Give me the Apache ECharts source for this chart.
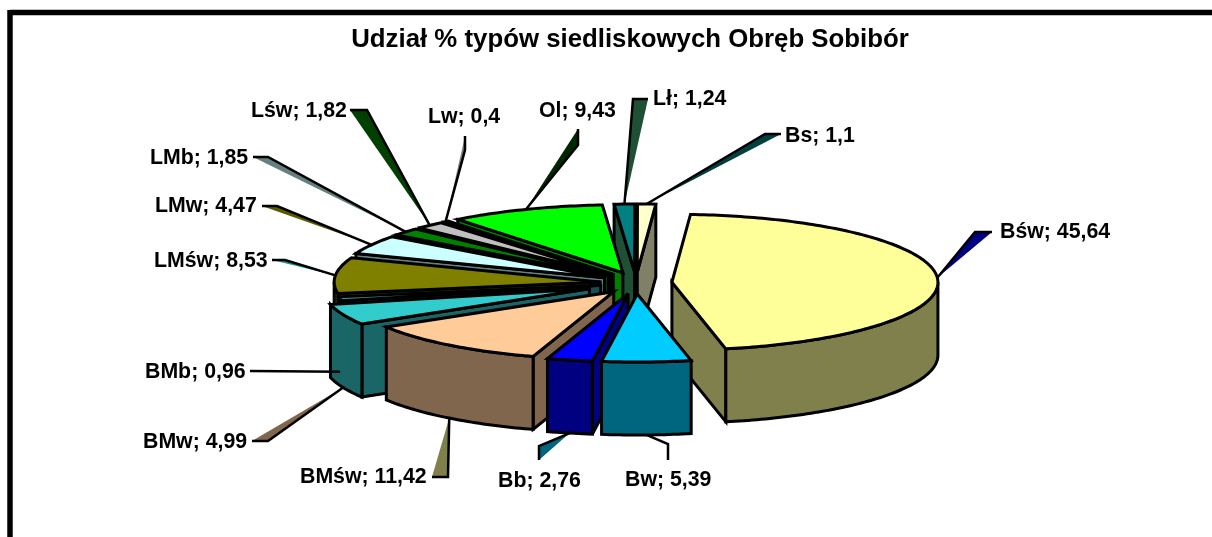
<!DOCTYPE html>
<html><head><meta charset="utf-8">
<style>html,body{margin:0;padding:0;background:#fff}#c{width:1212px;height:537px}</style>
<script src="https://cdn.jsdelivr.net/npm/echarts@6/dist/echarts.min.js"></script>
</head><body><div id="c"></div>
<script>
const chartTitle = 'Udział % typów siedliskowych Obręb Sobibór';
const categories = ['Bśw','Bw','Bb','BMśw','BMw','BMb','LMśw','LMw','LMb','Lśw','Lw','Ol','Lł','Bs'];
const valueLabels = ['45,64','5,39','2,76','11,42','4,99','0,96','8,53','4,47','1,85','1,82','0,4','9,43','1,24','1,1'];
const values = [45.64,5.39,2.76,11.42,4.99,0.96,8.53,4.47,1.85,1.82,0.4,9.43,1.24,1.1];
const topColors = ['#FFFF99','#00CCFF','#0000FF','#FFCC99','#33CCCC','#339999','#808000','#CCFFFF','#008000','#C0C0C0','#006600','#00FF00','#008080','#FFFFCC'];
const wallColors = ['#80804D','#006680','#000080','#80664D','#1A6666','#1A4D4D','#404000','#668080','#004000','#606060','#003300','#008000','#1F5035','#808066'];
const leaderColors = ['#000080','#FFFFFF','#006680','#80804D','#80664D','#1A6666','#1A9090','#5A5A00','#668080','#004000','#808080','#002800','#1F5035','#004040'];
const explodeFactors = [1,1,1,1,1.4,1,1,1,1,1,1,1,1,1];
// label layout: elbow x,y ; leader end x,y ; text left x, text centre y
const elbows = [[975,232],[668,444],[539,446],[448,477],[268,441],[250,371],[285,260],[277,206],[268,157],[367,110],[465,150],[578,145],[633,99],[765,134]];
const ends   = [[992,232],[668,460],[539,460],[432,477],[252,441],[250,371],[272,260],[262,206],[253,157],[350,110],[465,136],[578,129],[648,99],[781,134]];
const textPos= [[1000,232],[625,480],[498,481],[300,477],[143,442],[145,372],[154,261],[155,206],[150,158],[251,111],[428,117],[539,111],[653,99],[785,136]];

const CX=636, CY=283, RX=266, RY=68, DEPTH=73, EX=36, EY=11, START=4, LW=3;
const total = values.reduce((a,b)=>a+b,0);
const rad = d=>d*Math.PI/180;
const slices=[]; let acc=START;
values.forEach((v,i)=>{
  const s=acc, e=acc+v/total*360, m=(s+e)/2; acc=e;
  const k=explodeFactors[i];
  slices.push({s,e,m,ax:CX+EX*k*Math.sin(rad(m)),ay:CY-EY*k*Math.cos(rad(m))});
});
const pt=(sl,a,dz)=>[sl.ax+RX*Math.sin(rad(a)), sl.ay-RY*Math.cos(rad(a))+(dz||0)];
const arc=(sl,a,b,dz)=>{const n=Math.max(2,Math.ceil(Math.abs(b-a)));const r=[];for(let j=0;j<=n;j++)r.push(pt(sl,a+(b-a)*j/n,dz));return r;};
const order=values.map((_,i)=>i).sort((a,b)=>Math.cos(rad(slices[b].m))-Math.cos(rad(slices[a].m)));
const line={stroke:'#000',lineWidth:LW,lineJoin:'miter',miterLimit:4};
const poly=(points,fill)=>({type:'polygon',shape:{points},style:Object.assign({fill},line)});

function renderSlice(params,api){
  const i=api.value(0), sl=slices[i], ch=[];
  const apex=[sl.ax,sl.ay], apexB=[sl.ax,sl.ay+DEPTH], wall=wallColors[i];
  if(Math.sin(rad(sl.s))<0){const p=pt(sl,sl.s);ch.push(poly([apex,p,[p[0],p[1]+DEPTH],apexB],wall));}
  if(Math.sin(rad(sl.e))>0){const p=pt(sl,sl.e);ch.push(poly([apex,p,[p[0],p[1]+DEPTH],apexB],wall));}
  const a=Math.max(sl.s,90), b=Math.min(sl.e,270);
  if(b>a){ch.push(poly(arc(sl,a,b,0).concat(arc(sl,b,a,DEPTH)),wall));}
  ch.push(poly([apex].concat(arc(sl,sl.s,sl.e,0)),topColors[i]));
  return {type:'group',children:ch};
}
function renderLabel(params,api){
  const i=api.value(0), sl=slices[i];
  const front=Math.cos(rad(sl.m))<0;
  const a=pt(sl,sl.m,front?DEPTH:0), el=elbows[i], en=ends[i], t=textPos[i];
  return {type:'group',children:[
    {type:'polygon',shape:{points:[a,el,en]},style:{fill:leaderColors[i],stroke:null}},
    {type:'polyline',shape:{points:[a,el,en]},style:{fill:null,stroke:'#000',lineWidth:2.5}},
    {type:'text',x:t[0],y:t[1],style:{text:categories[i]+'; '+valueLabels[i],fill:'#000',font:'bold 21.3px "Liberation Sans", Arial, sans-serif',textAlign:'left',textVerticalAlign:'middle'}}
  ]};
}
const chart=echarts.init(document.getElementById('c'),null,{renderer:'canvas'});
chart.setOption({
  animation:false,
  backgroundColor:'#fff',
  title:{text:chartTitle,left:630,top:22,textAlign:'center',textStyle:{fontFamily:'"Liberation Sans", Arial, sans-serif',fontWeight:'bold',fontSize:25.8,color:'#000'}},
  graphic:[
    {type:'line',shape:{x1:10,y1:12.5,x2:1212,y2:12.5},style:{stroke:'#000',lineWidth:5.5}},
    {type:'line',shape:{x1:10,y1:10,x2:10,y2:537},style:{stroke:'#000',lineWidth:5.5}},
    {type:'rect',shape:{x:0,y:0,width:0,height:0},style:{fill:'none'}}
  ],
  series:[
    {type:'custom',coordinateSystem:'none',silent:true,z:2,clip:false,data:order.map(i=>[i,values[i]]),renderItem:renderSlice},
    {type:'custom',coordinateSystem:'none',silent:true,z:3,clip:false,data:values.map((v,i)=>[i,v]),renderItem:renderLabel}
  ]
});
chart.setOption({title:{left:625}});
</script></body></html>
